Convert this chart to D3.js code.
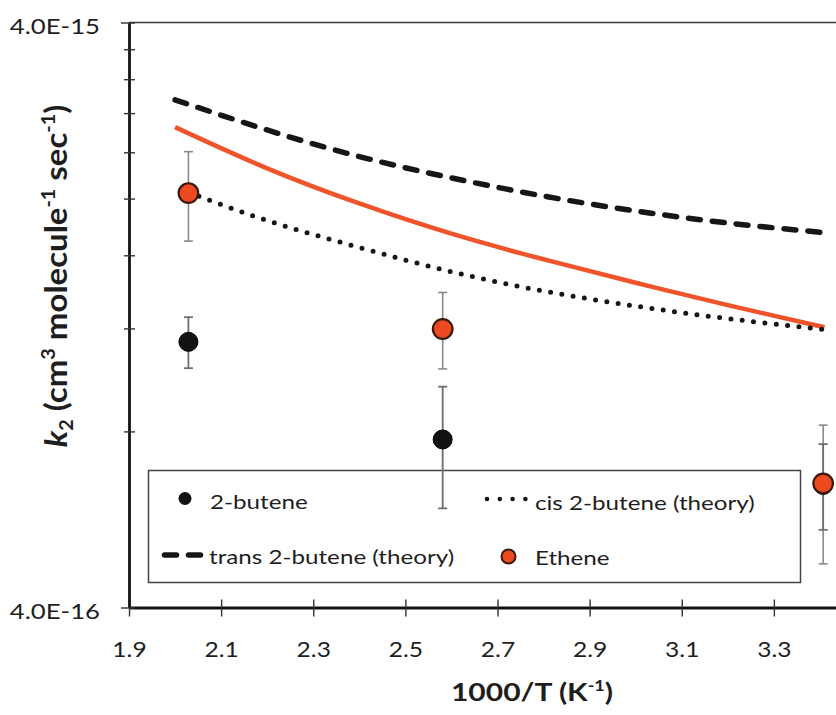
<!DOCTYPE html>
<html>
<head>
<meta charset="utf-8">
<script src="https://cdn.jsdelivr.net/npm/d3@7"></script>
<style>
  body { margin: 0; background: #fff; }
  svg { display: block; }
  text { font-family: Lato, "Open Sans", sans-serif; fill: #1e1e1e; }
</style>
</head>
<body>
<svg id="chart" width="836" height="715"></svg>
<script>
// Measured second-order rate constants k2 against 1000/T
const invT      = [2.029, 2.581, 3.407];
const buteneK   = [1.138e-15, 7.75e-16, 6.48e-16];
const buteneHi  = [1.254e-15, 9.54e-16, 7.61e-16];
const buteneLo  = [1.026e-15, 5.91e-16, 5.43e-16];
const etheneK   = [2.044e-15, 1.197e-15, 6.52e-16];
const etheneHi  = [2.406e-15, 1.382e-15, 8.20e-16];
const etheneLo  = [1.692e-15, 1.023e-15, 4.75e-16];

// Theoretical curves
const theoryInvT   = [2.0, 2.2, 2.4, 2.6, 2.8, 3.0, 3.2, 3.41];
const transTheory  = [2.95e-15, 2.62e-15, 2.36e-15, 2.17e-15, 2.02e-15, 1.905e-15, 1.817e-15, 1.749e-15];
const etheneTheory = [2.65e-15, 2.253e-15, 1.962e-15, 1.742e-15, 1.575e-15, 1.436e-15, 1.315e-15, 1.205e-15];
const cisInvT      = [2.029, 2.2, 2.4, 2.6, 2.8, 3.0, 3.2, 3.41];
const cisTheory    = [2.05e-15, 1.835e-15, 1.65e-15, 1.50e-15, 1.39e-15, 1.31e-15, 1.247e-15, 1.194e-15];

// Axes
const xTicks      = [1.9, 2.1, 2.3, 2.5, 2.7, 2.9, 3.1, 3.3];
const yMajorTicks = [4e-16, 4e-15];
const yMajorText  = ["4.0E-16", "4.0E-15"];
const yMinorTicks = [8e-16, 1.2e-15, 1.6e-15, 2.0e-15, 2.4e-15, 2.8e-15, 3.2e-15, 3.6e-15];

// Legend entries
const legendLabels = ["2-butene", "cis 2-butene (theory)", "trans 2-butene (theory)", "Ethene"];

const SX = 1.17;             // horizontal widening of the lettering
const ORANGE = "#f0542a";
const ETH_FILL = "#ee4a22";

const svg = d3.select("#chart");
const plot = { left: 129, right: 866, top: 22.5, bottom: 607.5 };

const x = d3.scaleLinear().domain([1.9, 3.5]).range([plot.left, plot.right]);
const y = d3.scaleLog().domain([4e-16, 4e-15]).range([plot.bottom, plot.top]);

// Frame (top and right edges)
svg.append("path")
  .attr("d", `M${plot.left},${plot.top}H${plot.right}V${plot.bottom}`)
  .attr("fill", "none").attr("stroke", "#3a3a3a").attr("stroke-width", 1.5);

// X axis
const gx = svg.append("g").attr("transform", `translate(0,${plot.bottom})`)
  .call(d3.axisBottom(x).tickValues(xTicks).tickFormat(d3.format(".1f")).tickSizeOuter(0));
gx.select(".domain").attr("stroke", "#111").attr("stroke-width", 2.8);
gx.selectAll(".tick line").attr("y1", -8).attr("y2", 9).attr("stroke", "#333").attr("stroke-width", 1.4);
gx.selectAll(".tick text")
  .attr("y", 0).attr("dy", null)
  .attr("transform", `translate(0,49) scale(${SX},1)`)
  .style("font-size", "21px").attr("fill", "#1e1e1e");

// Y axis (log) with minor ticks at multiples of 4E-16
const allY = yMajorTicks.concat(yMinorTicks);
const gy = svg.append("g").attr("transform", `translate(${plot.left},0)`)
  .call(d3.axisLeft(y).tickValues(allY)
    .tickFormat(d => { const i = yMajorTicks.indexOf(d); return i >= 0 ? yMajorText[i] : ""; })
    .tickSizeOuter(0));
gy.select(".domain").attr("stroke", "#111").attr("stroke-width", 2.8);
gy.selectAll(".tick line")
  .attr("x1", d => yMajorTicks.includes(d) ? -8 : -5)
  .attr("x2", 6).attr("stroke", "#333").attr("stroke-width", 1.4);
gy.selectAll(".tick text")
  .attr("x", 0).attr("dy", null)
  .attr("text-anchor", "end")
  .attr("transform", `translate(-29,11) scale(${SX},1)`)
  .style("font-size", "22px").attr("fill", "#1e1e1e");

// Axis titles
const xt = svg.append("text")
  .attr("transform", `translate(532,701) scale(1.2,1)`)
  .attr("text-anchor", "middle")
  .style("font-size", "25px").style("font-weight", "bold");
xt.append("tspan").text("1000/T (K");
xt.append("tspan").text("-1").style("font-size", "15px").attr("dy", -10);
xt.append("tspan").text(")").attr("dy", 10);

const yt = svg.append("text")
  .attr("transform", `translate(67,276) rotate(-90) scale(1.1,1)`)
  .attr("text-anchor", "middle")
  .style("font-size", "30px").style("font-weight", "bold");
yt.append("tspan").text("k").style("font-style", "italic");
yt.append("tspan").text("2").style("font-size", "18px").attr("dy", 6);
yt.append("tspan").text(" (cm").attr("dy", -6);
yt.append("tspan").text("3").style("font-size", "18px").attr("dy", -12);
yt.append("tspan").text(" molecule").attr("dy", 12);
yt.append("tspan").text("-1").style("font-size", "18px").attr("dy", -12);
yt.append("tspan").text(" sec").attr("dy", 12);
yt.append("tspan").text("-1").style("font-size", "18px").attr("dy", -12);
yt.append("tspan").text(")").attr("dy", 12);

// Theory curves
const line = d3.line().x(d => x(d[0])).y(d => y(d[1])).curve(d3.curveNatural);
const zip = (a, b) => a.map((v, i) => [v, b[i]]);

svg.append("path").datum(zip(theoryInvT, transTheory))
  .attr("d", line).attr("fill", "none")
  .attr("stroke", "#161616").attr("stroke-width", 5.5)
  .attr("stroke-dasharray", "12,12").attr("stroke-linecap", "round");

svg.append("path").datum(zip(theoryInvT, etheneTheory))
  .attr("d", line).attr("fill", "none")
  .attr("stroke", ORANGE).attr("stroke-width", 4.5);

svg.append("path").datum(zip(cisInvT, cisTheory))
  .attr("d", line).attr("fill", "none")
  .attr("stroke", "#161616").attr("stroke-width", 5)
  .attr("stroke-dasharray", "0,11.4").attr("stroke-linecap", "round");

// Legend
const lg = svg.append("g");
lg.append("rect").attr("x", 148.5).attr("y", 470.5).attr("width", 652).attr("height", 112)
  .attr("fill", "none").attr("stroke", "#444").attr("stroke-width", 1.5);
const legendText = (tx, ty, s) => lg.append("text")
  .attr("transform", `translate(${tx},${ty}) scale(1.21,1)`)
  .style("font-size", "20px").text(s);
lg.append("circle").attr("cx", 185).attr("cy", 498.5).attr("r", 6.5).attr("fill", "#111");
legendText(210, 509, legendLabels[0]);
lg.append("line").attr("x1", 487).attr("x2", 526).attr("y1", 499).attr("y2", 499)
  .attr("stroke", "#161616").attr("stroke-width", 4.6)
  .attr("stroke-dasharray", "0,12.8").attr("stroke-linecap", "round");
legendText(535, 510, legendLabels[1]);
lg.append("line").attr("x1", 164.5).attr("x2", 204).attr("y1", 555).attr("y2", 555)
  .attr("stroke", "#161616").attr("stroke-width", 5.5)
  .attr("stroke-dasharray", "12,12").attr("stroke-linecap", "round");
legendText(209, 563.5, legendLabels[2]);
lg.append("circle").attr("cx", 508.5).attr("cy", 556.5).attr("r", 7)
  .attr("fill", ETH_FILL).attr("stroke", "#3b1a0c").attr("stroke-width", 2);
legendText(535, 564.5, legendLabels[3]);

// Error bars
function errorBars(lo, hi, color, width) {
  const g = svg.append("g").attr("stroke", color).attr("stroke-width", width).attr("fill", "none");
  invT.forEach((t, i) => {
    const cx = x(t), y0 = y(lo[i]), y1 = y(hi[i]);
    g.append("line").attr("x1", cx).attr("x2", cx).attr("y1", y0).attr("y2", y1);
    g.append("line").attr("x1", cx - 4.5).attr("x2", cx + 4.5).attr("y1", y0).attr("y2", y0);
    g.append("line").attr("x1", cx - 4.5).attr("x2", cx + 4.5).attr("y1", y1).attr("y2", y1);
  });
}
errorBars(etheneLo, etheneHi, "#8a8a8a", 1.6);
errorBars(buteneLo, buteneHi, "#6e6e6e", 1.8);

// Data markers
svg.append("g").selectAll("circle").data(zip(invT, buteneK)).join("circle")
  .attr("cx", d => x(d[0])).attr("cy", d => y(d[1])).attr("r", 9.5)
  .attr("fill", "#121212").attr("stroke", "#000").attr("stroke-width", 1);
svg.append("g").selectAll("circle").data(zip(invT, etheneK)).join("circle")
  .attr("cx", d => x(d[0])).attr("cy", d => y(d[1])).attr("r", 9.8)
  .attr("fill", ETH_FILL).attr("stroke", "#3b1a0c").attr("stroke-width", 2.2);
</script>
</body>
</html>
